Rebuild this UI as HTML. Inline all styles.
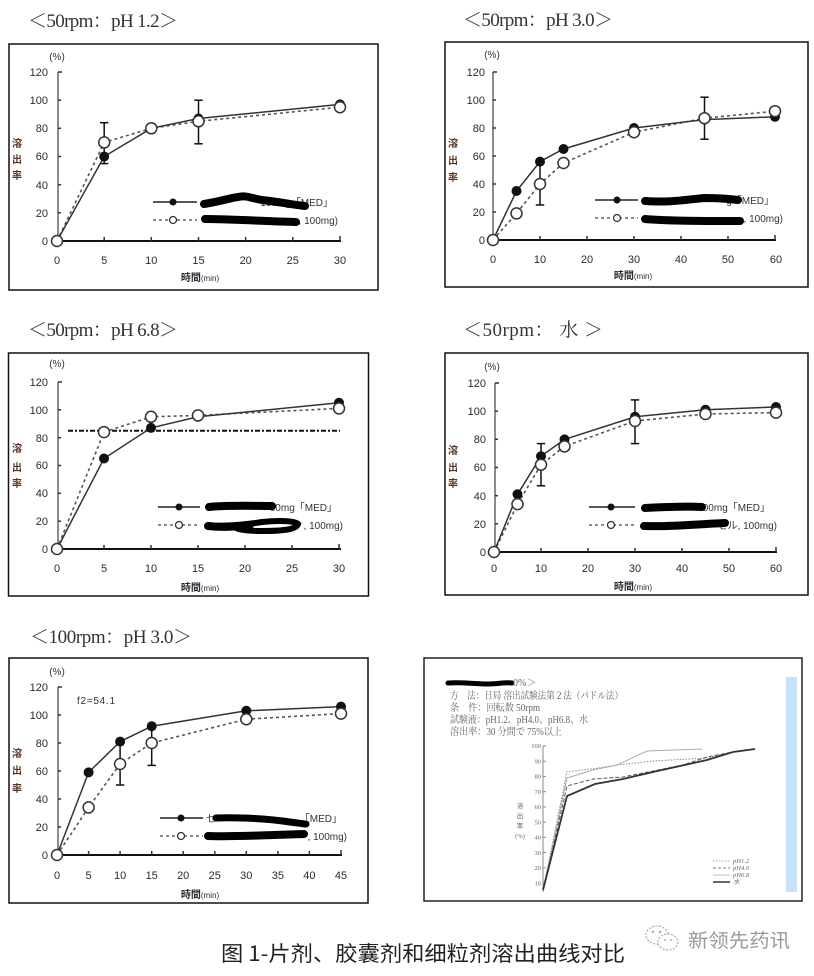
<!DOCTYPE html>
<html><head><meta charset="utf-8"><style>
html,body{margin:0;padding:0;background:#fff;}
svg{display:block;}
.tk{font-family:"Liberation Sans",sans-serif;font-size:11px;fill:#2a2a35;}
.ax{font-family:"Liberation Sans","Noto Sans CJK JP",sans-serif;font-size:10px;fill:#2a2a35;font-weight:bold;}
.yl{font-family:"Noto Sans CJK JP",sans-serif;font-size:10px;fill:#5a3320;font-weight:bold;}
.ttl{font-family:"Liberation Serif","Noto Serif CJK SC",serif;font-size:19px;fill:#333;}
.lg{font-family:"Liberation Sans","Noto Sans CJK JP",sans-serif;font-size:10px;fill:#333;}
.s6{font-family:"Liberation Serif","Noto Serif CJK SC",serif;font-size:10px;fill:#666;}
.t6{font-family:"Liberation Serif",serif;font-size:6.5px;fill:#666;}
</style></head><body>
<svg width="814" height="976" viewBox="0 0 814 976" xmlns="http://www.w3.org/2000/svg">
<rect width="814" height="976" fill="#fff"/>

<!-- ================= PANEL 1 ================= -->
<text class="ttl" x="28" y="27" textLength="150" lengthAdjust="spacing">＜50rpm：pH 1.2＞</text>
<rect x="9" y="44" width="369" height="246" fill="none" stroke="#111" stroke-width="1.5"/>
<text class="lg" x="57" y="60" text-anchor="middle" font-size="9">(%)</text>
<line x1="58" y1="72" x2="58" y2="241" stroke="#666" stroke-width="1.5"/>
<line x1="57" y1="241" x2="341" y2="241" stroke="#111" stroke-width="2"/>
<g stroke="#333" stroke-width="1.5">
<line x1="58" y1="72" x2="62" y2="72"/><line x1="58" y1="100.2" x2="61" y2="100.2"/><line x1="58" y1="128.3" x2="61" y2="128.3"/><line x1="58" y1="156.5" x2="61" y2="156.5"/><line x1="58" y1="184.7" x2="61" y2="184.7"/><line x1="58" y1="212.8" x2="61" y2="212.8"/>
<line x1="104.2" y1="241" x2="104.2" y2="237"/><line x1="151.3" y1="241" x2="151.3" y2="237"/><line x1="198.5" y1="241" x2="198.5" y2="237"/><line x1="245.7" y1="241" x2="245.7" y2="237"/><line x1="292.8" y1="241" x2="292.8" y2="237"/><line x1="340" y1="241" x2="340" y2="236"/>
</g>
<g class="tk" text-anchor="end">
<text x="48" y="76">120</text><text x="48" y="104">100</text><text x="48" y="132">80</text><text x="48" y="160">60</text><text x="48" y="189">40</text><text x="48" y="217">20</text><text x="48" y="245">0</text>
</g>
<g class="tk" text-anchor="middle">
<text x="57" y="264">0</text><text x="104.2" y="264">5</text><text x="151.3" y="264">10</text><text x="198.5" y="264">15</text><text x="245.7" y="264">20</text><text x="292.8" y="264">25</text><text x="340" y="264">30</text>
</g>
<text class="ax" x="200" y="281" text-anchor="middle">時間<tspan font-size="8" font-weight="normal">(min)</tspan></text>
<text class="yl" x="17" y="147" text-anchor="middle">溶</text><text class="yl" x="17" y="163" text-anchor="middle">出</text><text class="yl" x="17" y="179" text-anchor="middle">率</text>
<!-- error bars -->
<g stroke="#111" stroke-width="1.5">
<line x1="104.2" y1="122.7" x2="104.2" y2="163.6"/><line x1="100" y1="122.7" x2="108.4" y2="122.7"/><line x1="100" y1="163.6" x2="108.4" y2="163.6"/>
<line x1="198.5" y1="100.2" x2="198.5" y2="143.8"/><line x1="194.3" y1="100.2" x2="202.7" y2="100.2"/><line x1="194.3" y1="143.8" x2="202.7" y2="143.8"/>
</g>
<polyline points="57,241 104.2,142.4 151.3,128.3 198.5,121.3 340,107.2" fill="none" stroke="#555" stroke-width="1.6" stroke-dasharray="3,3"/>
<polyline points="57,241 104.2,156.5 151.3,128.3 198.5,118.5 340,104.4" fill="none" stroke="#333" stroke-width="1.5"/>
<g fill="#111"><circle cx="104.2" cy="156.5" r="5"/><circle cx="151.3" cy="128.3" r="5"/><circle cx="198.5" cy="118.5" r="5"/><circle cx="340" cy="104.4" r="5"/></g>
<g fill="#fff" stroke="#333" stroke-width="1.5"><circle cx="57" cy="241" r="5.5"/><circle cx="104.2" cy="142.4" r="5.5"/><circle cx="151.3" cy="128.3" r="5.5"/><circle cx="198.5" cy="121.3" r="5.5"/><circle cx="340" cy="107.2" r="5.5"/></g>
<!-- legend -->
<line x1="153" y1="202" x2="197" y2="202" stroke="#222" stroke-width="1.5"/><circle cx="173" cy="202" r="3.5" fill="#111"/>
<line x1="153" y1="220" x2="197" y2="220" stroke="#666" stroke-width="1.5" stroke-dasharray="3,3"/><circle cx="173" cy="220" r="3.5" fill="#fff" stroke="#333" stroke-width="1.3"/>
<text class="lg" x="333" y="206" text-anchor="end">100mg「MED」</text>
<text class="lg" x="338" y="224" text-anchor="end">, 100mg)</text>
<path d="M204,204 C222,201 230,198 238,197 C246,195 250,198 262,200 C280,202 295,205 305,206" fill="none" stroke="#000" stroke-width="8" stroke-linecap="round"/>
<path d="M205,219 C230,219 260,221 296,222" fill="none" stroke="#000" stroke-width="8" stroke-linecap="round"/>

<!-- ================= PANEL 2 ================= -->
<text class="ttl" x="463" y="26" textLength="150" lengthAdjust="spacing">＜50rpm：pH 3.0＞</text>
<rect x="445" y="42" width="363" height="245" fill="none" stroke="#111" stroke-width="1.5"/>
<text class="lg" x="492" y="58" text-anchor="middle" font-size="9">(%)</text>
<line x1="493" y1="72" x2="493" y2="240" stroke="#666" stroke-width="1.5"/>
<line x1="493" y1="240" x2="776" y2="240" stroke="#111" stroke-width="2"/>
<g stroke="#333" stroke-width="1.5">
<line x1="493" y1="72" x2="497" y2="72"/><line x1="493" y1="100" x2="496" y2="100"/><line x1="493" y1="128" x2="496" y2="128"/><line x1="493" y1="156" x2="496" y2="156"/><line x1="493" y1="184" x2="496" y2="184"/><line x1="493" y1="212" x2="496" y2="212"/>
<line x1="540" y1="240" x2="540" y2="236"/><line x1="587" y1="240" x2="587" y2="236"/><line x1="634" y1="240" x2="634" y2="236"/><line x1="681" y1="240" x2="681" y2="236"/><line x1="728" y1="240" x2="728" y2="236"/><line x1="775" y1="240" x2="775" y2="235"/>
</g>
<g class="tk" text-anchor="end">
<text x="485" y="76">120</text><text x="485" y="104">100</text><text x="485" y="132">80</text><text x="485" y="160">60</text><text x="485" y="188">40</text><text x="485" y="216">20</text><text x="485" y="244">0</text>
</g>
<g class="tk" text-anchor="middle">
<text x="493" y="263">0</text><text x="540" y="263">10</text><text x="587" y="263">20</text><text x="634" y="263">30</text><text x="681" y="263">40</text><text x="728" y="263">50</text><text x="776" y="263">60</text>
</g>
<text class="ax" x="633" y="279" text-anchor="middle">時間<tspan font-size="8" font-weight="normal">(min)</tspan></text>
<text class="yl" x="453" y="147" text-anchor="middle">溶</text><text class="yl" x="453" y="164" text-anchor="middle">出</text><text class="yl" x="453" y="181" text-anchor="middle">率</text>
<g stroke="#111" stroke-width="1.5">
<line x1="540" y1="161.6" x2="540" y2="205"/><line x1="535.8" y1="205" x2="544.2" y2="205"/>
<line x1="704.5" y1="97.2" x2="704.5" y2="139.2"/><line x1="700.3" y1="97.2" x2="708.7" y2="97.2"/><line x1="700.3" y1="139.2" x2="708.7" y2="139.2"/>
</g>
<polyline points="493,240 516.5,213.4 540,184 563.5,163 634,132.2 704.5,118.2 775,111.2" fill="none" stroke="#555" stroke-width="1.6" stroke-dasharray="3,3"/>
<polyline points="493,240 516.5,191 540,161.6 563.5,149 634,128 704.5,119.6 775,116.8" fill="none" stroke="#333" stroke-width="1.5"/>
<g fill="#111"><circle cx="516.5" cy="191" r="5"/><circle cx="540" cy="161.6" r="5"/><circle cx="563.5" cy="149" r="5"/><circle cx="634" cy="128" r="5"/><circle cx="704.5" cy="119.6" r="5"/><circle cx="775" cy="116.8" r="5"/></g>
<g fill="#fff" stroke="#333" stroke-width="1.5"><circle cx="493" cy="240" r="5.5"/><circle cx="516.5" cy="213.4" r="5.5"/><circle cx="540" cy="184" r="5.5"/><circle cx="563.5" cy="163" r="5.5"/><circle cx="634" cy="132.2" r="5.5"/><circle cx="704.5" cy="118.2" r="5.5"/><circle cx="775" cy="111.2" r="5.5"/></g>
<line x1="595" y1="200" x2="638" y2="200" stroke="#222" stroke-width="1.5"/><circle cx="617" cy="200" r="3.5" fill="#111"/>
<line x1="595" y1="218" x2="638" y2="218" stroke="#666" stroke-width="1.5" stroke-dasharray="3,3"/><circle cx="617" cy="218" r="3.5" fill="#fff" stroke="#333" stroke-width="1.3"/>
<text class="lg" x="774" y="204" text-anchor="end">g「MED」</text>
<text class="lg" x="783" y="222" text-anchor="end">, 100mg)</text>
<path d="M645,201 C670,203 690,199 705,198 C718,198 730,199 738,200" fill="none" stroke="#000" stroke-width="8" stroke-linecap="round"/>
<path d="M645,219 C670,221 700,221 740,221" fill="none" stroke="#000" stroke-width="8" stroke-linecap="round"/>

<!-- ================= PANEL 3 ================= -->
<text class="ttl" x="28" y="336" textLength="150" lengthAdjust="spacing">＜50rpm：pH 6.8＞</text>
<rect x="8.5" y="353" width="360" height="243" fill="none" stroke="#111" stroke-width="1.5"/>
<text class="lg" x="57" y="367" text-anchor="middle" font-size="9">(%)</text>
<line x1="58" y1="382" x2="58" y2="549" stroke="#666" stroke-width="1.5"/>
<line x1="57" y1="549" x2="341" y2="549" stroke="#111" stroke-width="2"/>
<g stroke="#333" stroke-width="1.5">
<line x1="58" y1="382" x2="62" y2="382"/><line x1="58" y1="409.8" x2="61" y2="409.8"/><line x1="58" y1="437.7" x2="61" y2="437.7"/><line x1="58" y1="465.5" x2="61" y2="465.5"/><line x1="58" y1="493.3" x2="61" y2="493.3"/><line x1="58" y1="521.2" x2="61" y2="521.2"/>
<line x1="104" y1="549" x2="104" y2="545"/><line x1="151" y1="549" x2="151" y2="545"/><line x1="198" y1="549" x2="198" y2="545"/><line x1="245" y1="549" x2="245" y2="545"/><line x1="292" y1="549" x2="292" y2="545"/><line x1="339" y1="549" x2="339" y2="544"/>
</g>
<g class="tk" text-anchor="end">
<text x="48" y="386">120</text><text x="48" y="414">100</text><text x="48" y="442">80</text><text x="48" y="469">60</text><text x="48" y="497">40</text><text x="48" y="525">20</text><text x="48" y="553">0</text>
</g>
<g class="tk" text-anchor="middle">
<text x="57" y="572">0</text><text x="104" y="572">5</text><text x="151" y="572">10</text><text x="198" y="572">15</text><text x="245" y="572">20</text><text x="292" y="572">25</text><text x="339" y="572">30</text>
</g>
<text class="ax" x="200" y="591" text-anchor="middle">時間<tspan font-size="8" font-weight="normal">(min)</tspan></text>
<text class="yl" x="17" y="452" text-anchor="middle">溶</text><text class="yl" x="17" y="471" text-anchor="middle">出</text><text class="yl" x="17" y="487" text-anchor="middle">率</text>
<line x1="68" y1="430.7" x2="340" y2="430.7" stroke="#111" stroke-width="2" stroke-dasharray="5,2,2,2"/>
<polyline points="57,549 104,432.1 151,416.8 198,415.4 339,408.4" fill="none" stroke="#555" stroke-width="1.6" stroke-dasharray="3,3"/>
<polyline points="57,549 104,458.5 151,427.9 198,416.8 339,402.8" fill="none" stroke="#333" stroke-width="1.5"/>
<g fill="#111"><circle cx="104" cy="458.5" r="5"/><circle cx="151" cy="427.9" r="5"/><circle cx="198" cy="416.8" r="5"/><circle cx="339" cy="402.8" r="5"/></g>
<g fill="#fff" stroke="#333" stroke-width="1.5"><circle cx="57" cy="549" r="5.5"/><circle cx="104" cy="432.1" r="5.5"/><circle cx="151" cy="416.8" r="5.5"/><circle cx="198" cy="415.4" r="5.5"/><circle cx="339" cy="408.4" r="5.5"/></g>
<line x1="158" y1="507" x2="200" y2="507" stroke="#222" stroke-width="1.5"/><circle cx="179" cy="507" r="3.5" fill="#111"/>
<line x1="158" y1="525" x2="200" y2="525" stroke="#666" stroke-width="1.5" stroke-dasharray="3,3"/><circle cx="179" cy="525" r="3.5" fill="#fff" stroke="#333" stroke-width="1.3"/>
<text class="lg" x="337" y="511" text-anchor="end">00mg「MED」</text>
<text class="lg" x="343" y="529" text-anchor="end">, 100mg)</text>
<path d="M209,507 C230,505 255,506 272,506" fill="none" stroke="#000" stroke-width="8" stroke-linecap="round"/>
<path d="M208,526 C230,526 250,524 262,522 C280,520 295,521 298,524 C296,530 280,531 262,531 C250,531 240,530 236,528" fill="none" stroke="#000" stroke-width="6" stroke-linecap="round"/>
<path d="M208,526 C225,528 240,526 250,525" fill="none" stroke="#000" stroke-width="8" stroke-linecap="round"/>

<!-- ================= PANEL 4 ================= -->
<text class="ttl" x="463" y="336" textLength="140" lengthAdjust="spacing">＜50rpm： 水 ＞</text>
<rect x="445" y="353" width="363" height="242" fill="none" stroke="#111" stroke-width="1.5"/>
<text class="lg" x="492" y="370" text-anchor="middle" font-size="9">(%)</text>
<line x1="495" y1="383" x2="495" y2="552" stroke="#666" stroke-width="1.5"/>
<line x1="494" y1="552" x2="777" y2="552" stroke="#111" stroke-width="2"/>
<g stroke="#333" stroke-width="1.5">
<line x1="495" y1="383" x2="499" y2="383"/><line x1="495" y1="411.2" x2="498" y2="411.2"/><line x1="495" y1="439.3" x2="498" y2="439.3"/><line x1="495" y1="467.5" x2="498" y2="467.5"/><line x1="495" y1="495.7" x2="498" y2="495.7"/><line x1="495" y1="523.8" x2="498" y2="523.8"/>
<line x1="541" y1="552" x2="541" y2="548"/><line x1="588" y1="552" x2="588" y2="548"/><line x1="635" y1="552" x2="635" y2="548"/><line x1="682" y1="552" x2="682" y2="548"/><line x1="729" y1="552" x2="729" y2="548"/><line x1="776" y1="552" x2="776" y2="547"/>
</g>
<g class="tk" text-anchor="end">
<text x="486" y="387">120</text><text x="486" y="415">100</text><text x="486" y="443">80</text><text x="486" y="471">60</text><text x="486" y="500">40</text><text x="486" y="528">20</text><text x="486" y="556">0</text>
</g>
<g class="tk" text-anchor="middle">
<text x="494" y="572">0</text><text x="541" y="572">10</text><text x="588" y="572">20</text><text x="635" y="572">30</text><text x="682" y="572">40</text><text x="729" y="572">50</text><text x="776" y="572">60</text>
</g>
<text class="ax" x="633" y="590" text-anchor="middle">時間<tspan font-size="8" font-weight="normal">(min)</tspan></text>
<text class="yl" x="453" y="454" text-anchor="middle">溶</text><text class="yl" x="453" y="471" text-anchor="middle">出</text><text class="yl" x="453" y="487" text-anchor="middle">率</text>
<g stroke="#111" stroke-width="1.5">
<line x1="541" y1="443.6" x2="541" y2="485.8"/><line x1="536.8" y1="443.6" x2="545.2" y2="443.6"/><line x1="536.8" y1="485.8" x2="545.2" y2="485.8"/>
<line x1="635" y1="399.9" x2="635" y2="443.6"/><line x1="630.8" y1="399.9" x2="639.2" y2="399.9"/><line x1="630.8" y1="443.6" x2="639.2" y2="443.6"/>
</g>
<polyline points="494,552 517.5,504.1 541,464.7 564.5,446.4 635,421 705.5,414 776,412.6" fill="none" stroke="#555" stroke-width="1.6" stroke-dasharray="3,3"/>
<polyline points="494,552 517.5,494.3 541,456.3 564.5,439.4 635,416.8 705.5,409.8 776,407" fill="none" stroke="#333" stroke-width="1.5"/>
<g fill="#111"><circle cx="517.5" cy="494.3" r="5"/><circle cx="541" cy="456.3" r="5"/><circle cx="564.5" cy="439.4" r="5"/><circle cx="635" cy="416.8" r="5"/><circle cx="705.5" cy="409.8" r="5"/><circle cx="776" cy="407" r="5"/></g>
<g fill="#fff" stroke="#333" stroke-width="1.5"><circle cx="494" cy="552" r="5.5"/><circle cx="517.5" cy="504.1" r="5.5"/><circle cx="541" cy="464.7" r="5.5"/><circle cx="564.5" cy="446.4" r="5.5"/><circle cx="635" cy="421" r="5.5"/><circle cx="705.5" cy="414" r="5.5"/><circle cx="776" cy="412.6" r="5.5"/></g>
<line x1="589" y1="507" x2="635" y2="507" stroke="#222" stroke-width="1.5"/><circle cx="611" cy="507" r="3.5" fill="#111"/>
<line x1="589" y1="525" x2="635" y2="525" stroke="#666" stroke-width="1.5" stroke-dasharray="3,3"/><circle cx="611" cy="525" r="3.5" fill="#fff" stroke="#333" stroke-width="1.3"/>
<text class="lg" x="770" y="511" text-anchor="end">00mg「MED」</text>
<text class="lg" x="777" y="529" text-anchor="end">セル, 100mg)</text>
<path d="M645,508 C665,507 685,506 702,507" fill="none" stroke="#000" stroke-width="8" stroke-linecap="round"/>
<path d="M644,526 C670,527 700,524 725,523" fill="none" stroke="#000" stroke-width="8" stroke-linecap="round"/>

<!-- ================= PANEL 5 ================= -->
<text class="ttl" x="30" y="643" textLength="162" lengthAdjust="spacing">＜100rpm：pH 3.0＞</text>
<rect x="9" y="658" width="359" height="245" fill="none" stroke="#111" stroke-width="1.5"/>
<text class="lg" x="57" y="675" text-anchor="middle" font-size="9">(%)</text>
<line x1="58" y1="687" x2="58" y2="855" stroke="#666" stroke-width="1.5"/>
<line x1="57" y1="855" x2="342" y2="855" stroke="#111" stroke-width="2"/>
<g stroke="#333" stroke-width="1.5">
<line x1="58" y1="687" x2="62" y2="687"/><line x1="58" y1="715" x2="61" y2="715"/><line x1="58" y1="743" x2="61" y2="743"/><line x1="58" y1="771" x2="61" y2="771"/><line x1="58" y1="799" x2="61" y2="799"/><line x1="58" y1="827" x2="61" y2="827"/>
<line x1="88.6" y1="855" x2="88.6" y2="851"/><line x1="120.1" y1="855" x2="120.1" y2="851"/><line x1="151.7" y1="855" x2="151.7" y2="851"/><line x1="183.2" y1="855" x2="183.2" y2="851"/><line x1="214.8" y1="855" x2="214.8" y2="851"/><line x1="246.3" y1="855" x2="246.3" y2="851"/><line x1="277.9" y1="855" x2="277.9" y2="851"/><line x1="309.4" y1="855" x2="309.4" y2="851"/><line x1="341" y1="855" x2="341" y2="850"/>
</g>
<g class="tk" text-anchor="end">
<text x="48" y="691">120</text><text x="48" y="719">100</text><text x="48" y="747">80</text><text x="48" y="775">60</text><text x="48" y="803">40</text><text x="48" y="831">20</text><text x="48" y="859">0</text>
</g>
<g class="tk" text-anchor="middle">
<text x="57" y="879">0</text><text x="88.6" y="879">5</text><text x="120.1" y="879">10</text><text x="151.7" y="879">15</text><text x="183.2" y="879">20</text><text x="214.8" y="879">25</text><text x="246.3" y="879">30</text><text x="277.9" y="879">35</text><text x="309.4" y="879">40</text><text x="341" y="879">45</text>
</g>
<text class="ax" x="200" y="898" text-anchor="middle">時間<tspan font-size="8" font-weight="normal">(min)</tspan></text>
<text class="yl" x="17" y="757" text-anchor="middle">溶</text><text class="yl" x="17" y="774" text-anchor="middle">出</text><text class="yl" x="17" y="792" text-anchor="middle">率</text>
<text class="lg" x="77" y="704" textLength="38" lengthAdjust="spacing">f2=54.1</text>
<g stroke="#111" stroke-width="1.5">
<line x1="120.1" y1="741.6" x2="120.1" y2="785"/><line x1="115.9" y1="785" x2="124.3" y2="785"/>
<line x1="151.7" y1="726.2" x2="151.7" y2="765.4"/><line x1="147.5" y1="765.4" x2="155.9" y2="765.4"/>
</g>
<polyline points="57,855 88.6,807.4 120.1,764 151.7,743 246.3,719.2 341,713.6" fill="none" stroke="#555" stroke-width="1.6" stroke-dasharray="3,3"/>
<polyline points="57,855 88.6,772.4 120.1,741.6 151.7,726.2 246.3,710.8 341,706.6" fill="none" stroke="#333" stroke-width="1.5"/>
<g fill="#111"><circle cx="88.6" cy="772.4" r="5"/><circle cx="120.1" cy="741.6" r="5"/><circle cx="151.7" cy="726.2" r="5"/><circle cx="246.3" cy="710.8" r="5"/><circle cx="341" cy="706.6" r="5"/></g>
<g fill="#fff" stroke="#333" stroke-width="1.5"><circle cx="57" cy="855" r="5.5"/><circle cx="88.6" cy="807.4" r="5.5"/><circle cx="120.1" cy="764" r="5.5"/><circle cx="151.7" cy="743" r="5.5"/><circle cx="246.3" cy="719.2" r="5.5"/><circle cx="341" cy="713.6" r="5.5"/></g>
<line x1="160" y1="818" x2="203" y2="818" stroke="#222" stroke-width="1.5"/><circle cx="181" cy="818" r="3.5" fill="#111"/>
<line x1="160" y1="836" x2="203" y2="836" stroke="#666" stroke-width="1.5" stroke-dasharray="3,3"/><circle cx="181" cy="836" r="3.5" fill="#fff" stroke="#333" stroke-width="1.3"/>
<text class="lg" x="206" y="822">セ</text>
<text class="lg" x="342" y="822" text-anchor="end">「MED」</text>
<text class="lg" x="347" y="840" text-anchor="end">, 100mg)</text>
<path d="M216,818 C240,817 270,819 290,822 C298,823 303,824 306,824" fill="none" stroke="#000" stroke-width="7" stroke-linecap="round"/>
<path d="M208,836 C235,837 270,835 304,834" fill="none" stroke="#000" stroke-width="8" stroke-linecap="round"/>

<!-- ================= PANEL 6 ================= -->
<rect x="424" y="658" width="378" height="243" fill="none" stroke="#222" stroke-width="1.5"/>
<rect x="786" y="677" width="11" height="215" fill="#c6e2fb"/>
<path d="M448,683 C462,682 475,684 488,684 C498,684 506,682 512,683" fill="none" stroke="#000" stroke-width="5" stroke-linecap="round"/>
<text class="s6" x="513" y="686" font-size="8">0%＞</text>
<text class="s6" x="450" y="699" textLength="173" lengthAdjust="spacingAndGlyphs">方　法：日局 溶出試験法第２法（パドル法）</text>
<text class="s6" x="450" y="711" textLength="90" lengthAdjust="spacingAndGlyphs">条　件：回転数 50rpm</text>
<text class="s6" x="450" y="723" textLength="138" lengthAdjust="spacingAndGlyphs">試験液：pH1.2、pH4.0、pH6.8、水</text>
<text class="s6" x="450" y="735" textLength="112" lengthAdjust="spacingAndGlyphs">溶出率：30 分間で 75%以上</text>
<line x1="543" y1="746" x2="543" y2="892" stroke="#888" stroke-width="1"/>
<g stroke="#888" stroke-width="1">
<line x1="543" y1="746" x2="546" y2="746"/><line x1="543" y1="761.2" x2="546" y2="761.2"/><line x1="543" y1="776.4" x2="546" y2="776.4"/><line x1="543" y1="791.7" x2="546" y2="791.7"/><line x1="543" y1="806.9" x2="546" y2="806.9"/><line x1="543" y1="822.1" x2="546" y2="822.1"/><line x1="543" y1="837.3" x2="546" y2="837.3"/><line x1="543" y1="852.5" x2="546" y2="852.5"/><line x1="543" y1="867.8" x2="546" y2="867.8"/><line x1="543" y1="883" x2="546" y2="883"/>
</g>
<g class="t6" text-anchor="end">
<text x="541" y="748">100</text><text x="541" y="763.5">90</text><text x="541" y="778.7">80</text><text x="541" y="794">70</text><text x="541" y="809.2">60</text><text x="541" y="824.4">50</text><text x="541" y="839.6">40</text><text x="541" y="854.8">30</text><text x="541" y="870.1">20</text><text x="541" y="885.3">10</text>
</g>
<g class="t6" text-anchor="middle">
<text x="520" y="808">溶</text><text x="520" y="818">出</text><text x="520" y="828">率</text><text x="520" y="838">(%)</text>
</g>
<polyline points="543,890 567,771.7 595,768.5 617,765 653,761 707,758 733,752 755,749" fill="none" stroke="#888" stroke-width="1" stroke-dasharray="1.5,1.5"/>
<polyline points="543,890 567,786 593,779 623,777 683,765 707,757 733,752 755,749" fill="none" stroke="#555" stroke-width="1" stroke-dasharray="4,2"/>
<polyline points="543,890 567,778 593,770 617,765 647,751 702,749" fill="none" stroke="#aaa" stroke-width="1"/>
<polyline points="543,890 567,796 595,784 623,779 653,772 707,760 733,752 755,749" fill="none" stroke="#333" stroke-width="1.8"/>
<line x1="713" y1="861" x2="730" y2="861" stroke="#888" stroke-width="0.8" stroke-dasharray="1.5,1.5"/>
<line x1="713" y1="868" x2="730" y2="868" stroke="#555" stroke-width="0.8" stroke-dasharray="3,2"/>
<line x1="713" y1="875" x2="730" y2="875" stroke="#aaa" stroke-width="0.8"/>
<line x1="713" y1="882" x2="730" y2="882" stroke="#333" stroke-width="1.6"/>
<g class="t6" font-size="5.5" font-style="italic">
<text x="733" y="863">pH1.2</text><text x="733" y="870">pH4.0</text><text x="733" y="877">pH6.8</text><text x="733" y="884">水</text>
</g>

<!-- ================= CAPTION ================= -->
<text x="221" y="961" font-family="Noto Sans CJK SC, sans-serif" font-size="21" fill="#222" textLength="404" lengthAdjust="spacingAndGlyphs">图 1-片剂、胶囊剂和细粒剂溶出曲线对比</text>
<g fill="none" stroke="#aaa" stroke-width="1.2" stroke-dasharray="2,1.5">
<ellipse cx="657" cy="935" rx="11" ry="9"/>
<ellipse cx="668" cy="942" rx="10" ry="8" fill="#fff"/>
</g>
<g fill="#aaa"><circle cx="653" cy="932" r="1.2"/><circle cx="660" cy="932" r="1.2"/><circle cx="665" cy="940" r="1"/><circle cx="671" cy="940" r="1"/></g>
<text x="688" y="947" font-family="Noto Sans CJK SC, sans-serif" font-size="19" fill="#999" textLength="102" lengthAdjust="spacingAndGlyphs">新领先药讯</text>
</svg>
</body></html>
